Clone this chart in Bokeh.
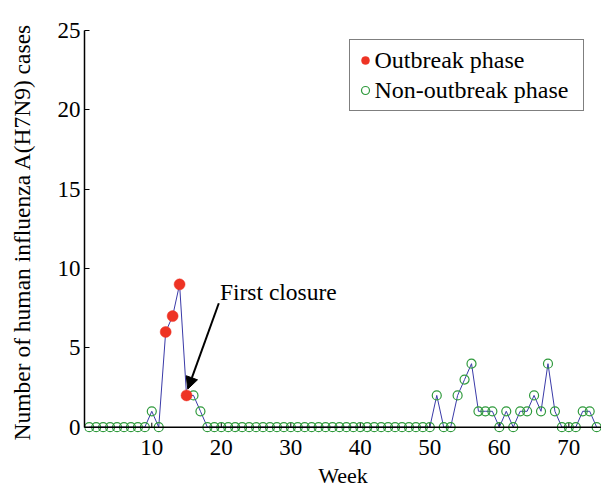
from bokeh.plotting import figure
from bokeh.models import (FixedTicker, Legend, LegendItem, Arrow, NormalHead,
                          Label, Range1d, Span)
from bokeh.embed import file_html
from bokeh.resources import INLINE

# ---- data -------------------------------------------------------------
weeks = list(range(1, 75))
cases = [0, 0, 0, 0, 0, 0, 0, 0, 0, 1, 0, 6, 7, 9, 2, 2, 1,
         0, 0, 0, 0, 0, 0, 0, 0, 0, 0, 0, 0, 0, 0, 0, 0, 0,
         0, 0, 0, 0, 0, 0, 0, 0, 0, 0, 0, 0, 0, 0, 0, 0,
         2, 0, 0, 2, 3, 4, 1, 1, 1, 0, 1, 0, 1, 1, 2, 1, 4, 1, 0, 0, 0, 1, 1, 0]
outbreak_weeks = [12, 13, 14, 15]
x_ticks = [10, 20, 30, 40, 50, 60, 70]
y_ticks = [0, 5, 10, 15, 20, 25]

# annotation anchors (data units)
closure_text = "First closure"
closure_text_pos = (19.8, 8.5)
arrow_tail = (19.64, 7.81)
arrow_tip = (15.18, 2.4)

# ---- split by phase ----------------------------------------------------
ob_x = [w for w, c in zip(weeks, cases) if w in outbreak_weeks]
ob_y = [c for w, c in zip(weeks, cases) if w in outbreak_weeks]
nob_x = [w for w, c in zip(weeks, cases) if w not in outbreak_weeks]
nob_y = [c for w, c in zip(weeks, cases) if w not in outbreak_weeks]

FONT = "Liberation Serif"
LINE_C = "#3a3aa8"
RED = "#ee3324"
GREEN = "#2f9a3c"

p = figure(width=601, height=490,
           x_range=Range1d(0.32, 74.7), y_range=Range1d(-0.4, 25),
           output_backend="svg", toolbar_location=None,
           min_border_left=84, min_border_right=0,
           min_border_top=30, min_border_bottom=57)

p.outline_line_color = None
p.xgrid.visible = False
p.ygrid.visible = False
p.background_fill_color = "white"
p.border_fill_color = "white"

# x-axis rule at zero and small inward ticks
p.add_layout(Span(location=0, dimension="width", line_color="black", line_width=1.5))
p.segment(x0=x_ticks, y0=[0] * len(x_ticks), x1=x_ticks, y1=[0.28] * len(x_ticks),
          line_color="black", line_width=1)

p.line(weeks, cases, line_color=LINE_C, line_width=1)
r_nob = p.scatter(nob_x, nob_y, size=9, marker="circle", fill_color=None,
                  line_color=GREEN, line_width=1.2)
r_ob = p.scatter(ob_x, ob_y, size=11, marker="circle", fill_color=RED,
                 line_color=RED, line_width=0.5)

# axes
p.xaxis.ticker = FixedTicker(ticks=x_ticks)
p.yaxis.ticker = FixedTicker(ticks=y_ticks)
p.yaxis.bounds = (0, 25)
for ax in (p.xaxis[0], p.yaxis[0]):
    ax.major_tick_in = 5
    ax.major_tick_out = 0
    ax.minor_tick_line_color = None
    ax.axis_line_color = "black"
    ax.axis_line_width = 1.5
    ax.major_tick_line_color = "black"
    ax.major_label_text_font = FONT
    ax.major_label_text_font_size = "23px"
    ax.major_label_text_color = "black"
    ax.axis_label_text_font = FONT
    ax.axis_label_text_font_style = "normal"
    ax.axis_label_text_color = "black"
    ax.major_label_standoff = 4

p.xaxis.axis_line_color = None
p.xaxis.major_tick_line_color = None
p.xaxis.major_label_standoff = 6
p.xaxis.axis_label = "Week"
p.xaxis.axis_label_text_font_size = "22px"
p.xaxis.axis_label_standoff = 5
p.yaxis.axis_label = "Number of human influenza A(H7N9) cases"
p.yaxis.axis_label_text_font_size = "23.5px"
p.yaxis.axis_label_standoff = 20

# annotation
p.add_layout(Arrow(end=NormalHead(size=12, fill_color="black", line_color="black"),
                   x_start=arrow_tail[0], y_start=arrow_tail[1],
                   x_end=arrow_tip[0], y_end=arrow_tip[1],
                   line_color="black", line_width=2))
p.add_layout(Label(x=closure_text_pos[0], y=closure_text_pos[1], text=closure_text,
                   text_font=FONT, text_font_size="23.5px", text_color="black",
                   text_baseline="alphabetic"))

legend = Legend(items=[LegendItem(label="Outbreak phase", renderers=[r_ob]),
                       LegendItem(label="Non-outbreak phase", renderers=[r_nob])],
                location=(264.5, 321.8))
legend.border_line_color = "black"
legend.border_line_width = 1
legend.background_fill_color = "white"
legend.background_fill_alpha = 1
legend.padding = 5
legend.margin = 0
legend.spacing = 0
legend.glyph_width = 20
legend.glyph_height = 30
legend.label_height = 30
legend.label_standoff = 0
legend.label_width = 203
legend.label_text_font = FONT
legend.label_text_font_size = "24px"
legend.label_text_color = "black"
p.add_layout(legend)

open("out.html", "w").write(file_html(p, INLINE))
